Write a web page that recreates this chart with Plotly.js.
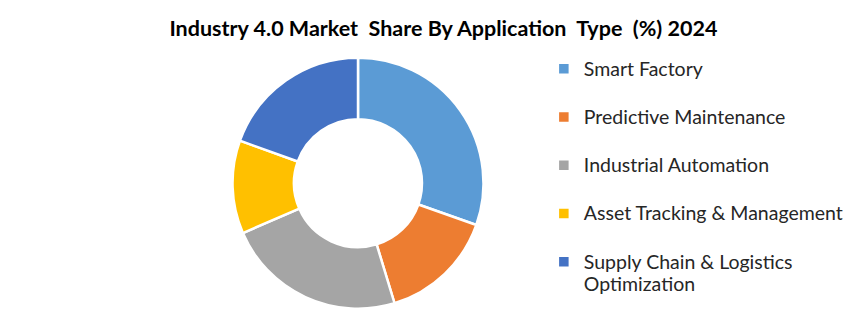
<!DOCTYPE html>
<html>
<head>
<meta charset="utf-8">
<script src="https://cdn.plot.ly/plotly-3.0.1.min.js"></script>
<style>html,body{margin:0;padding:0;background:#fff;}#chart{width:866px;height:311px;}</style>
</head>
<body>
<div id="chart"></div>
<script>
const categories = ["Smart Factory", "Predictive Maintenance", "Industrial Automation", "Asset Tracking & Management", "Supply Chain & Logistics<br>Optimization"];
const shares = [30.4, 14.9, 23.2, 12.0, 19.5];
const colors = ["#5B9BD5", "#ED7D31", "#A5A5A5", "#FFC000", "#4472C4"];
const titleText = "Industry 4.0 Market  Share By Application  Type  (%) 2024";

// Legend labels: larger visible text, each entry two lines high for Excel-like spacing
const legendLabels = categories.map(c => {
  const parts = c.split("<br>");
  const styled = parts.map(p => '<span style="font-size:19.5px">' + p + '</span>');
  if (styled.length < 2) styled.push(" ");
  return styled.join("<br>");
});

const trace = {
  type: "pie",
  labels: legendLabels,
  values: shares,
  sort: false,
  direction: "clockwise",
  rotation: 0,
  hole: 0.51,
  textinfo: "none",
  hoverinfo: "label+percent",
  marker: {colors: colors, line: {color: "#ffffff", width: 2.5}},
  domain: {x: [0.2685, 0.5583], y: [0.0074, 0.8145]}
};

const layout = {
  width: 866, height: 311,
  margin: {l: 0, r: 0, t: 0, b: 0},
  paper_bgcolor: "#ffffff",
  title: {text: "<b>" + titleText + "</b>", font: {family: "Lato, sans-serif", size: 21.5, color: "#000000"}, x: 0.512, xanchor: "center", y: 0.91, yanchor: "middle"},
  showlegend: true,
  legend: {x: 0.628, xanchor: "left", y: 0.836, yanchor: "top", valign: "top", font: {family: "Lato, sans-serif", size: 17.4, color: "#262626"}, itemclick: false}
};

Plotly.newPlot("chart", [trace], layout, {displayModeBar: false, staticPlot: true});
</script>
</body>
</html>
